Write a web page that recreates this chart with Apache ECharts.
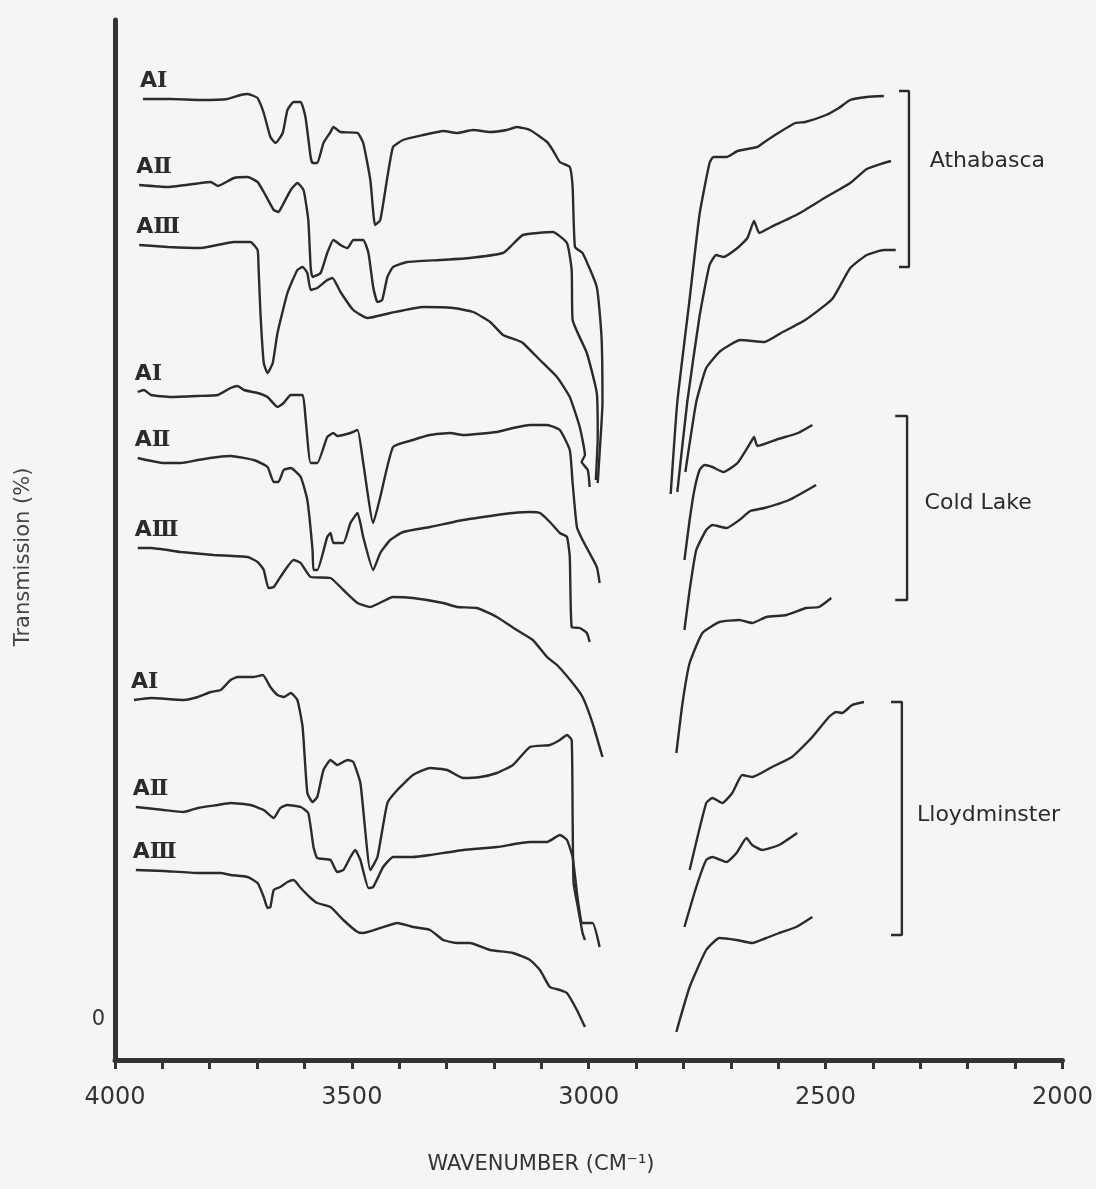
<!DOCTYPE html>
<html>
<head>
    <meta charset="utf-8">
    <title>IR spectra</title>
    <script src="https://cdn.jsdelivr.net/npm/echarts@6/dist/echarts.min.js"></script>
</head>
<style>
    html, body, #main {
        width: 100%;
        height: 100%;
        margin: 0;
        background: #f5f5f4;
    }
</style>
<body>
<div id='main'></div>
<script>
    // x = wavenumber (cm-1), y = transmission (offset traces, arbitrary %)
    // Athabasca
    var athAI_left = [[3941,92.1],[3882,92.1],[3819,92.0],[3762,92.1],[3735,92.5],[3720,92.6],[3707,92.4],[3699,92.2],[3686,90.7],[3672,88.3],[3661,87.7],[3646,88.7],[3636,91.0],[3623,91.8],[3608,91.8],[3598,90.3],[3587,86.3],[3583,85.7],[3573,85.7],[3560,87.7],[3545,88.8],[3539,89.3],[3524,88.8],[3488,88.7],[3476,87.7],[3461,84.0],[3451,79.5],[3440,80.0],[3425,84.3],[3413,87.3],[3392,88.0],[3349,88.5],[3307,88.9],[3278,88.7],[3244,89.0],[3208,88.8],[3173,89.0],[3152,89.3],[3124,89.0],[3088,87.8],[3076,87.0],[3061,85.8],[3040,85.3],[3034,83.3],[3029,77.3],[3013,76.7],[2983,73.3],[2973,68.3],[2971,61.7],[2977,56.7],[2981,53.7]];
    var athAI_right = [[2827,52.6],[2813,61.8],[2787,72.1],[2766,80.6],[2745,85.7],[2737,86.3],[2709,86.3],[2686,86.9],[2644,87.3],[2629,87.8],[2600,88.7],[2564,89.7],[2543,89.8],[2499,90.5],[2472,91.2],[2448,92.0],[2413,92.3],[2377,92.4]];
    var athAII_left = [[3949,83.5],[3888,83.3],[3819,83.7],[3798,83.8],[3783,83.4],[3749,84.2],[3720,84.3],[3699,83.8],[3686,82.8],[3665,81.0],[3655,80.8],[3646,81.5],[3629,83.0],[3615,83.7],[3602,83.0],[3592,80.0],[3587,75.3],[3583,74.3],[3566,74.7],[3552,76.7],[3539,78.0],[3524,77.5],[3509,77.2],[3497,78.0],[3476,78.0],[3465,76.7],[3455,73.3],[3446,71.8],[3436,72.0],[3425,74.3],[3413,75.3],[3383,75.8],[3314,76.0],[3251,76.2],[3181,76.7],[3166,77.3],[3139,78.5],[3076,78.8],[3046,77.7],[3036,75.0],[3034,70.0],[3004,66.7],[2983,62.7],[2981,58.3],[2985,54.0]];
    var athAII_right = [[2813,52.8],[2792,61.8],[2766,70.4],[2745,75.5],[2731,76.5],[2716,76.3],[2686,77.2],[2665,78.2],[2651,79.9],[2640,78.7],[2615,79.3],[2558,80.6],[2499,82.3],[2448,83.7],[2413,85.1],[2377,85.7],[2362,85.9]];
    var athAIII_left = [[3949,77.5],[3888,77.3],[3819,77.2],[3749,77.8],[3714,77.8],[3699,77.0],[3697,75.3],[3693,70.7],[3686,65.7],[3678,64.7],[3667,65.7],[3657,68.7],[3636,72.7],[3615,75.0],[3604,75.3],[3594,74.7],[3587,73.0],[3573,73.2],[3552,74.0],[3541,74.2],[3524,72.8],[3497,71.0],[3467,70.2],[3419,70.7],[3349,71.3],[3286,71.2],[3244,70.8],[3208,69.8],[3181,68.5],[3152,68.0],[3139,67.7],[3103,66.0],[3067,64.3],[3040,62.3],[3019,59.3],[3008,56.5],[3015,55.8],[3002,55.0],[2998,53.3]];
    var athAIII_right = [[2796,54.8],[2773,61.8],[2752,65.2],[2722,66.9],[2680,68.0],[2629,67.8],[2594,68.7],[2543,70.0],[2486,72.1],[2448,75.2],[2413,76.5],[2377,77.0],[2352,77.0]];

    // Cold Lake
    var clAI_left = [[3952,62.8],[3939,63.0],[3924,62.5],[3882,62.3],[3825,62.4],[3783,62.5],[3756,63.2],[3741,63.4],[3728,63.0],[3699,62.7],[3678,62.3],[3657,61.3],[3644,61.7],[3629,62.5],[3604,62.5],[3598,60.3],[3587,55.7],[3573,55.7],[3552,58.3],[3539,58.7],[3531,58.4],[3503,58.7],[3488,59.0],[3476,55.7],[3455,49.7],[3440,52.3],[3413,57.3],[3371,58.0],[3335,58.5],[3293,58.7],[3265,58.5],[3194,58.8],[3160,59.2],[3124,59.5],[3088,59.5],[3061,59.0],[3040,57.0],[3034,53.7],[3025,49.3],[3013,48.0],[2983,45.3],[2977,43.7]];
    var clAI_right = [[2798,46.0],[2787,50.0],[2777,53.0],[2766,55.0],[2756,55.5],[2739,55.3],[2716,54.8],[2686,55.7],[2659,57.7],[2651,58.3],[2644,57.4],[2600,58.1],[2558,58.7],[2528,59.5]];
    var clAII_left = [[3952,56.2],[3897,55.7],[3861,55.7],[3825,56.0],[3783,56.3],[3756,56.4],[3707,56.0],[3678,55.3],[3665,53.8],[3655,53.8],[3644,55.0],[3629,55.2],[3608,54.3],[3594,52.0],[3583,47.0],[3581,45.0],[3573,45.0],[3552,48.3],[3545,48.7],[3539,47.7],[3518,47.7],[3503,49.7],[3488,50.7],[3476,48.3],[3455,45.0],[3440,46.7],[3419,48.0],[3392,48.8],[3335,49.3],[3265,50.0],[3194,50.5],[3160,50.7],[3124,50.8],[3103,50.7],[3082,49.8],[3061,48.7],[3046,48.3],[3040,46.3],[3036,39.3],[3019,39.2],[3004,38.7],[2998,37.8]];
    var clAII_right = [[2798,39.0],[2787,43.0],[2773,47.0],[2752,49.0],[2739,49.5],[2709,49.2],[2682,50.0],[2659,50.9],[2629,51.2],[2577,52.0],[2520,53.5]];
    var clAIII_left = [[3952,47.2],[3924,47.2],[3861,46.8],[3792,46.5],[3720,46.3],[3699,45.8],[3686,45.0],[3676,43.2],[3665,43.3],[3651,44.3],[3623,46.0],[3608,45.7],[3587,44.3],[3545,44.2],[3518,43.0],[3488,41.7],[3461,41.3],[3413,42.3],[3371,42.2],[3307,41.7],[3278,41.3],[3236,41.2],[3194,40.3],[3152,39.0],[3118,38.0],[3088,36.3],[3067,35.5],[3034,33.7],[3013,32.3],[2992,29.7],[2971,26.3]];
    var clAIII_right = [[2815,26.7],[2802,31.7],[2787,35.7],[2760,38.7],[2724,39.8],[2682,40.0],[2655,39.7],[2625,40.3],[2583,40.5],[2541,41.2],[2514,41.3],[2488,42.2]];

    // Lloydminster
    var llAI_left = [[3960,32.0],[3924,32.2],[3855,32.0],[3825,32.3],[3798,32.8],[3777,33.0],[3756,34.0],[3741,34.3],[3707,34.3],[3688,34.5],[3672,33.3],[3657,32.5],[3644,32.3],[3629,32.7],[3615,32.0],[3604,29.3],[3594,22.7],[3583,21.8],[3573,22.3],[3560,25.0],[3545,26.0],[3531,25.5],[3509,26.0],[3497,25.8],[3482,23.7],[3461,15.0],[3446,16.3],[3425,21.7],[3404,23.0],[3371,24.5],[3335,25.2],[3299,25.0],[3265,24.2],[3229,24.3],[3194,24.7],[3160,25.5],[3124,27.3],[3082,27.5],[3061,28.0],[3046,28.5],[3036,28.0],[3034,20.3],[3032,13.7],[3023,11.3],[3013,8.7],[3008,8.0]];
    var llAI_right = [[2787,15.0],[2752,21.7],[2739,22.2],[2718,21.7],[2697,22.7],[2676,24.5],[2655,24.3],[2613,25.3],[2571,26.3],[2528,28.3],[2493,30.3],[2478,30.8],[2465,30.7],[2444,31.5],[2419,31.8]];
    var llAII_left = [[3956,21.3],[3897,21.0],[3855,20.8],[3825,21.2],[3783,21.5],[3756,21.7],[3714,21.5],[3686,21.0],[3665,20.2],[3651,21.2],[3636,21.5],[3608,21.3],[3592,20.7],[3581,17.3],[3573,16.2],[3545,16.0],[3531,14.8],[3518,15.0],[3503,16.3],[3493,17.0],[3482,16.0],[3465,13.2],[3455,13.3],[3434,15.3],[3413,16.3],[3371,16.3],[3335,16.5],[3265,17.0],[3194,17.3],[3124,17.8],[3088,17.8],[3061,18.5],[3046,18.0],[3034,16.3],[3023,12.0],[3013,9.7],[2992,9.7],[2977,7.3]];
    var llAII_right = [[2798,9.3],[2773,13.3],[2752,16.0],[2739,16.3],[2709,15.8],[2688,16.7],[2667,18.2],[2655,17.5],[2634,17.0],[2598,17.5],[2560,18.7]];
    var llAIII_left = [[3956,15.0],[3897,14.9],[3825,14.7],[3777,14.7],[3756,14.5],[3720,14.3],[3699,13.7],[3686,12.3],[3678,11.2],[3672,11.3],[3665,13.0],[3651,13.3],[3636,13.8],[3623,14.0],[3608,13.2],[3587,12.2],[3573,11.7],[3545,11.3],[3518,10.0],[3488,8.8],[3476,8.7],[3440,9.2],[3404,9.7],[3371,9.3],[3335,9.0],[3307,8.0],[3278,7.7],[3251,7.7],[3208,7.0],[3160,6.7],[3124,6.0],[3103,5.0],[3082,3.3],[3061,3.0],[3046,2.7],[3025,1.0],[3008,-0.7]];
    var llAIII_right = [[2815,-1.2],[2808,0.0],[2787,3.3],[2752,7.0],[2724,8.2],[2688,8.0],[2655,7.7],[2625,8.2],[2598,8.7],[2562,9.3],[2528,10.3]];

    var fractionNames = ['Ⅰ', 'Ⅱ', 'Ⅲ', 'Ⅰ', 'Ⅱ', 'Ⅲ', 'Ⅰ', 'Ⅱ', 'Ⅲ'];
    var leftParts = [athAI_left, athAII_left, athAIII_left, clAI_left, clAII_left, clAIII_left, llAI_left, llAII_left, llAIII_left];
    var rightParts = [athAI_right, athAII_right, athAIII_right, clAI_right, clAII_right, clAIII_right, llAI_right, llAII_right, llAIII_right];

    var groupNames = ['Athabasca', 'Cold Lake', 'Lloydminster'];
    // bracket: [x of vertical, x of tick end, y top, y bottom]
    var bracketX = [2324, 2328, 2339];
    var bracketTickX = [2345, 2353, 2362];
    var bracketTop = [92.9, 60.4, 31.8];
    var bracketBottom = [75.3, 42.0, 8.5];
    var groupLabelAt = [[2280, 85.9], [2291, 51.7], [2307, 20.5]];

    var xTicks = [4000, 3500, 3000, 2500, 2000];

    var ink = '#2b2b2b';
    var font = 'DejaVu Sans';

    var series = [];
    function addLine(data) {
        series.push({
            type: 'line',
            data: data,
            symbol: 'none',
            smooth: 0.15,
            silent: true,
            lineStyle: {color: ink, width: 2.4}
        });
    }
    leftParts.forEach(addLine);
    rightParts.forEach(addLine);
    for (var i = 0; i < groupNames.length; i++) {
        addLine([
            [bracketTickX[i], bracketTop[i]],
            [bracketX[i], bracketTop[i]],
            [bracketX[i], bracketBottom[i]],
            [bracketTickX[i], bracketBottom[i]]
        ]);
        series[series.length - 1].smooth = false;
    }

    var chart = echarts.init(document.getElementById('main'));
    var option = {
        backgroundColor: '#f5f5f4',
        animation: false,
        grid: {left: 115, right: 32, top: 20, bottom: 129},
        xAxis: {
            type: 'value',
            min: 2000,
            max: 4000,
            interval: 500,
            inverse: true,
            axisLine: {onZero: false, lineStyle: {color: '#333', width: 5}},
            axisTick: {show: true, length: 9, lineStyle: {color: '#333', width: 3}},
            minorTick: {show: true, splitNumber: 5, length: 9, lineStyle: {color: '#333', width: 3}},
            splitLine: {show: false},
            axisLabel: {
                fontSize: 24, color: '#333', margin: 26, fontFamily: font,
                formatter: function (v) { return xTicks.indexOf(v) >= 0 ? String(v) : ''; }
            }
        },
        yAxis: {
            type: 'value',
            min: -4,
            max: 100,
            axisLine: {show: true, onZero: false, lineStyle: {color: '#333', width: 5}},
            axisTick: {show: false},
            splitLine: {show: false},
            axisLabel: {customValues: [0], fontSize: 21, color: '#333', margin: 10, fontFamily: font}
        },
        series: series
    };
    chart.setOption(option);

    // text placed from data positions
    var graphics = [];
    leftParts.forEach(function (part, i) {
        var p = chart.convertToPixel({gridIndex: 0}, part[0]);
        graphics.push({
            type: 'text',
            x: p[0] - 3,
            y: p[1] - 7,
            style: {
                text: '{a|A}{r|' + fractionNames[i] + '}',
                verticalAlign: 'bottom',
                align: 'left',
                rich: {
                    a: {font: 'bold 22px "DejaVu Sans"', fill: ink},
                    r: {font: 'bold 22px "DejaVu Serif"', fill: ink}
                }
            }
        });
    });
    groupNames.forEach(function (name, i) {
        var p = chart.convertToPixel({gridIndex: 0}, groupLabelAt[i]);
        graphics.push({
            type: 'text',
            x: p[0],
            y: p[1],
            style: {text: name, font: '22px "DejaVu Sans"', fill: ink, align: 'left', verticalAlign: 'middle'}
        });
    });
    graphics.push({
        type: 'text',
        x: 541,
        y: 1165,
        style: {text: 'WAVENUMBER (CM⁻¹)', font: '21px "DejaVu Sans"', fill: '#333', align: 'center', verticalAlign: 'middle'}
    });
    graphics.push({
        type: 'text',
        x: 24,
        y: 557,
        rotation: Math.PI / 2,
        style: {text: 'Transmission (%)', font: '21px "DejaVu Sans"', fill: '#444', align: 'center', verticalAlign: 'middle'}
    });
    chart.setOption({graphic: graphics});

    window.onresize = chart.resize;
</script>
</body>
</html>
